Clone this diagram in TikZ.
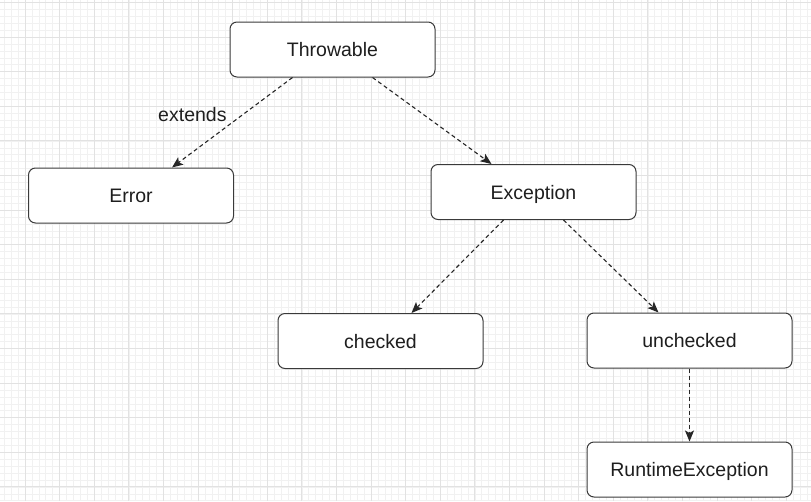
\documentclass[tikz,border=0pt]{standalone}
\usepackage{fontspec}
\setmainfont{Liberation Sans}
\usepackage{tikz}
\usetikzlibrary{arrows.meta}
\definecolor{minorgray}{HTML}{F1F1F1}
\definecolor{majorgray}{HTML}{E2E2E2}
\definecolor{boxline}{HTML}{3A3A3A}
\definecolor{arrowline}{HTML}{262626}
\definecolor{textblack}{HTML}{1E1E1E}

\begin{document}
\begin{tikzpicture}[x=1pt,y=-1pt]
            \tikzstyle{minorgrid}=[draw=minorgray,line width=0.6pt]
            \tikzstyle{majorgrid}=[draw=majorgray,line width=0.9pt]
            \tikzstyle{classbox}=[draw=boxline,line width=1pt,fill=white,rounded corners=7pt,
                minimum width=205pt,minimum height=55pt,text=textblack,
                font=\fontsize{19.5}{23}\selectfont,text height=14pt,text depth=0pt]
            \tikzstyle{inherit}=[draw=arrowline,line width=1.1pt,dash pattern=on 4pt off 3pt,
                -{Stealth[length=11pt,width=9pt,inset=2.5pt]}]
            \tikzstyle{edgelabel}=[text=textblack,font=\fontsize{19.5}{23}\selectfont,inner sep=2pt]

            \useasboundingbox (0,0) rectangle (811,501);
            \clip (0,0) rectangle (811,501);

            % background grid
            \foreach \i in {0,...,118}
                \draw[minorgrid] ({-2.68+6.92*\i},0) -- ++(0,501);
            \foreach \j in {0,...,72}
                \draw[minorgrid] (0,{2.5+6.92*\j}) -- ++(811,0);
            \foreach \k in {-1,...,23}
                \draw[majorgrid] ({25+34.6*\k},0) -- ++(0,501);
            \foreach \k in {0,...,14}
                \draw[majorgrid] (0,{2.5+34.6*\k}) -- ++(811,0);

            % classes
            \node[classbox] (thr) at (332.5,49.5) {Throwable};
            \node[classbox] (err) at (131,195.5) {Error};
            \node[classbox] (exc) at (533.5,192) {Exception};
            \node[classbox] (chk) at (380.5,341) {checked};
            \node[classbox] (unc) at (689.5,340.5) {unchecked};
            \node[classbox] (rte) at (689.5,469.5) {RuntimeException};

            % inheritance arrows
            \draw[inherit] ([xshift=-40pt]thr.south) -- ([xshift=41pt]err.north)
                node[edgelabel,pos=0.41,left=14pt] {extends};
            \draw[inherit] ([xshift=40pt]thr.south) -- ([xshift=-42pt]exc.north);
            \draw[inherit] ([xshift=-30pt]exc.south) -- ([xshift=31pt]chk.north);
            \draw[inherit] ([xshift=30pt]exc.south) -- ([xshift=-31pt]unc.north);
            \draw[inherit] (unc.south) -- (rte.north);
\end{tikzpicture}
\end{document}
